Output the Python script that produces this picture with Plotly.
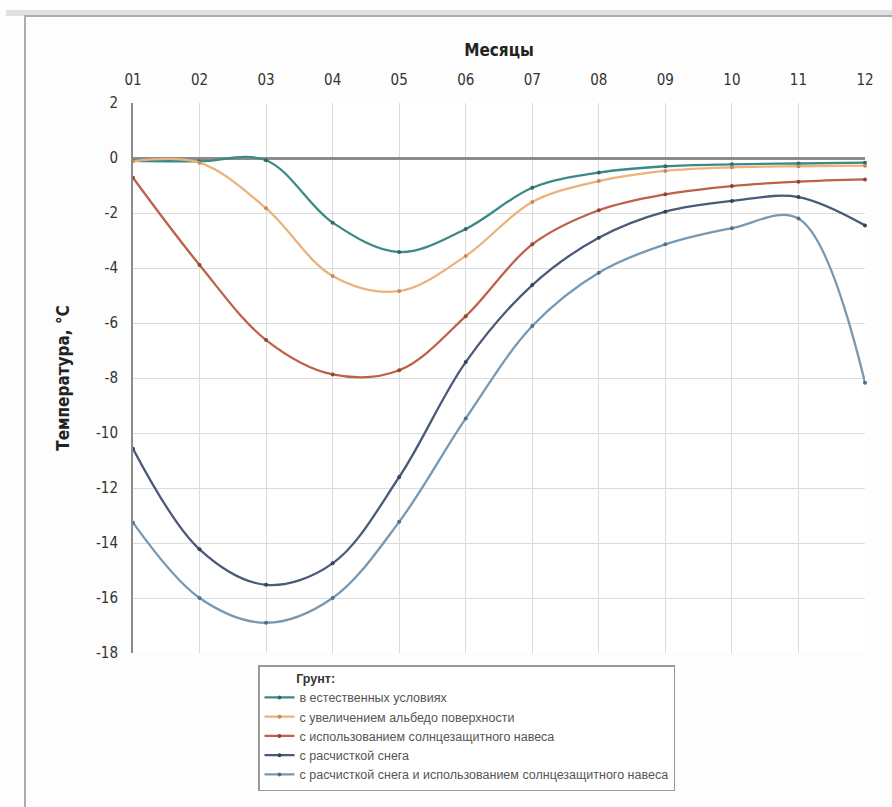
import plotly.graph_objects as go

# Month indices and labels
months = list(range(1, 13))
month_labels = ["01", "02", "03", "04", "05", "06", "07", "08", "09", "10", "11", "12"]

# Temperature axis ticks
temp_ticks = [2, 0, -2, -4, -6, -8, -10, -12, -14, -16, -18]
temp_labels = ["2", "0", "-2", "-4", "-6", "-8", "-10", "-12", "-14", "-16", "-18"]

# Ground temperature, °C, by scenario
natural = [-0.1, -0.12, -0.08, -2.35, -3.42, -2.58, -1.08, -0.53, -0.3, -0.23, -0.2, -0.17]
albedo = [-0.12, -0.17, -1.83, -4.29, -4.84, -3.56, -1.6, -0.84, -0.47, -0.34, -0.3, -0.28]
canopy = [-0.72, -3.89, -6.62, -7.87, -7.72, -5.75, -3.14, -1.9, -1.32, -1.02, -0.86, -0.78]
snow_cleared = [-10.57, -14.23, -15.52, -14.74, -11.6, -7.42, -4.62, -2.9, -1.95, -1.56, -1.42, -2.45]
snow_cleared_canopy = [-13.26, -16.0, -16.9, -16.0, -13.23, -9.47, -6.11, -4.17, -3.14, -2.55, -2.2, -8.17]

series_names = [
    "в естественных условиях",
    "с увеличением альбедо поверхности",
    "с использованием солнцезащитного навеса",
    "с расчисткой снега",
    "с расчисткой снега и использованием солнцезащитного навеса",
]
series_values = [natural, albedo, canopy, snow_cleared, snow_cleared_canopy]
line_colors = ["#3a8a85", "#ecb27c", "#bd6248", "#4c5a7a", "#7898b2"]
marker_colors = ["#2c6c66", "#c98a55", "#8f4634", "#36425c", "#50708a"]

FONT = "DejaVu Sans Condensed, Liberation Sans, Arial, sans-serif"
LEGEND_FONT = "Liberation Sans, Arial, sans-serif"

fig = go.Figure()
for name, vals, lc, mc in zip(series_names, series_values, line_colors, marker_colors):
    fig.add_trace(go.Scatter(
        x=months, y=vals, name=name,
        mode="lines+markers",
        line=dict(color=lc, width=2.3, shape="spline", smoothing=1.0),
        marker=dict(color=mc, size=4),
        cliponaxis=False,
    ))

# plot-area geometry in pixels (used to place the frame decoration)
W, H = 892, 807
L, R, T, B = 133, 27, 103, 154
pw, ph = W - L - R, H - T - B


def px(x):
    return (x - L) / pw


def py(y):
    return (H - B - y) / ph


fig.update_layout(
    width=W, height=H,
    margin=dict(l=L, r=R, t=T, b=B),
    paper_bgcolor="#fdfdfd",
    plot_bgcolor="white",
    font=dict(family=FONT, color="#333333", size=14),
    showlegend=True,
    legend=dict(
        title=dict(text="\u00a0" * 10 + "<b>Грунт:</b>",
                   font=dict(size=12.5, color="#333333", family=LEGEND_FONT)),
        font=dict(size=12.5, color="#555555", family=LEGEND_FONT),
        x=px(258), y=py(665), xanchor="left", yanchor="top",
        bordercolor="#9a9a9a", borderwidth=1.5,
        bgcolor="white",
        itemwidth=30,
        tracegroupgap=0,
    ),
    xaxis=dict(
        side="top",
        range=[1, 12],
        tickmode="array", tickvals=months, ticktext=month_labels,
        tickfont=dict(size=15, color="#333333"),
        ticklabelstandoff=14,
        showgrid=True, gridcolor="#dcdcdc", gridwidth=1,
        zeroline=False, showline=False,
        title=dict(text="<b>Месяцы</b>", font=dict(size=17, color="#222222"), standoff=10),
        fixedrange=True,
    ),
    yaxis=dict(
        range=[-18, 2],
        tickmode="array", tickvals=temp_ticks, ticktext=temp_labels,
        tickfont=dict(size=15, color="#333333"),
        ticklabelstandoff=10,
        showgrid=True, gridcolor="#dcdcdc", gridwidth=1,
        zeroline=True, zerolinecolor="#8c8c8c", zerolinewidth=2.5,
        showline=True, linecolor="#8c8c8c", linewidth=2,
        title=dict(text="<b>Температура, °C</b>", font=dict(size=17, color="#222222"), standoff=22),
        fixedrange=True,
    ),
    shapes=[
        # window frame around the chart
        dict(type="rect", xref="paper", yref="paper",
             x0=px(6), x1=px(W + 10), y0=py(10), y1=py(16),
             fillcolor="#dde1e4", line=dict(width=0), layer="below"),
        dict(type="rect", xref="paper", yref="paper",
             x0=px(25), x1=px(W + 20), y0=py(H + 20), y1=py(16),
             fillcolor="rgba(0,0,0,0)", line=dict(color="#a6aeb3", width=2), layer="below"),
    ],
)

fig.write_html("out.html")
